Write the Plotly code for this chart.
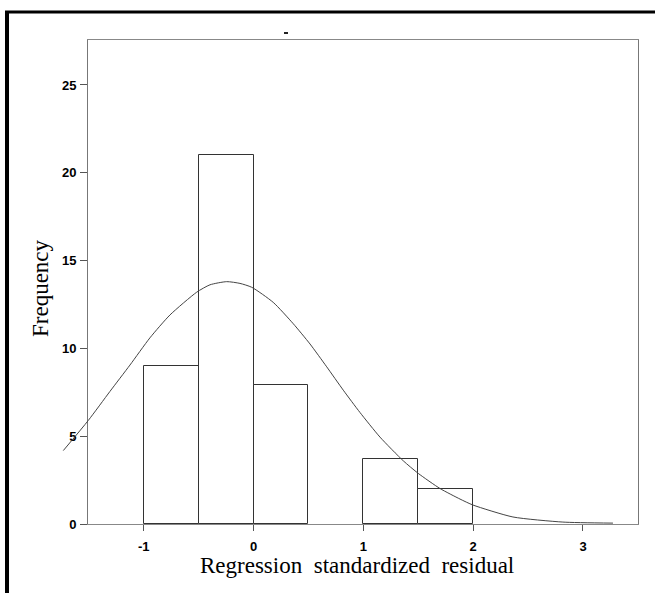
import plotly.graph_objects as go

# Histogram data (bin centres, bin width 0.5)
bin_centers = [-0.75, -0.25, 0.25, 1.25, 1.75]
frequencies = [9, 21, 7.9, 3.7, 2]
bin_width = 0.5

# Normal curve, points
curve_x = [-1.733, -1.505, -1.308, -1.126, -0.944, -0.762, -0.518, -0.397,
           -0.245, -0.124, -0.017, 0.179, 0.362, 0.514, 0.666, 0.817,
           0.969, 1.151, 1.363, 1.500, 1.698, 1.880, 1.998, 2.362, 2.817,
           3.273]
curve_y = [4.18, 5.90, 7.55, 9.05, 10.60, 11.90, 13.20, 13.62,
           13.80, 13.70, 13.48, 12.62, 11.40, 10.25, 8.95, 7.62,
           6.35, 4.95, 3.60, 2.88, 2.02, 1.42, 1.08, 0.40, 0.11,
           0.05]

x_ticks = [-1, 0, 1, 2, 3]
y_ticks = [0, 5, 10, 15, 20, 25]

W, H = 655, 593
ML, MR, MT, MB = 50, 17, 40, 69
PW = W - ML - MR
PH = H - MT - MB
plot_left_px = 88
main_x0 = (plot_left_px - ML) / PW

x_main = [-1.508, 3.501]
x_wide = [-1.854, 3.501]
y_rng = [0, 27.56]

def px2paper_x(px):
    return (px - ML) / PW

def py2paper_y(py):
    return (H - MB - py) / PH

fig = go.Figure()
fig.add_trace(go.Bar(
    x=bin_centers, y=frequencies, width=bin_width,
    marker=dict(color="white", line=dict(color="#333333", width=1)),
    xaxis="x", yaxis="y", showlegend=False,
))
fig.add_trace(go.Scatter(
    x=curve_x, y=curve_y, mode="lines",
    line=dict(color="#444444", width=1, shape="spline", smoothing=0.6),
    xaxis="x2", yaxis="y2", showlegend=False,
))

tick_font = dict(family="Liberation Sans, Arial", size=13, color="black",
                 weight="bold")

fig.update_layout(
    width=W, height=H,
    margin=dict(l=ML, r=MR, t=MT, b=MB),
    paper_bgcolor="white", plot_bgcolor="rgba(0,0,0,0)",
    bargap=0,
    xaxis=dict(
        domain=[main_x0, 1], range=x_main, tickvals=x_ticks,
        ticktext=[str(v) for v in x_ticks],
        ticks="outside", ticklen=6, tickcolor="#555555",
        ticklabelstandoff=4,
        showline=True, linecolor="#888888", linewidth=1, mirror=True,
        showgrid=False, zeroline=False, tickfont=tick_font,
        anchor="y", fixedrange=True,
    ),
    yaxis=dict(
        range=y_rng, tickvals=y_ticks,
        ticktext=[str(v) for v in y_ticks],
        ticks="outside", ticklen=7, tickcolor="#555555",
        ticklabelstandoff=1,
        showline=True, linecolor="#777777", linewidth=1, mirror=True,
        showgrid=False, zeroline=False, tickfont=tick_font,
        anchor="x", fixedrange=True,
    ),
    xaxis2=dict(domain=[0, 1], range=x_wide, visible=False, anchor="y2",
                fixedrange=True),
    yaxis2=dict(domain=[0, 1], range=y_rng, visible=False, anchor="x2",
                fixedrange=True),
    shapes=[
        dict(type="line", xref="paper", yref="paper",
             x0=px2paper_x(5), x1=px2paper_x(656),
             y0=py2paper_y(12), y1=py2paper_y(12),
             line=dict(color="black", width=3)),
        dict(type="line", xref="paper", yref="paper",
             x0=px2paper_x(7), x1=px2paper_x(7),
             y0=py2paper_y(11), y1=py2paper_y(594),
             line=dict(color="black", width=4)),
        dict(type="line", xref="paper", yref="paper",
             x0=px2paper_x(284), x1=px2paper_x(288),
             y0=py2paper_y(33), y1=py2paper_y(33),
             line=dict(color="#222222", width=2)),
    ],
    annotations=[
        dict(text="Regression  standardized  residual", xref="paper", yref="paper",
             x=px2paper_x(357), y=py2paper_y(565), xanchor="center",
             yanchor="middle", showarrow=False,
             font=dict(family="Liberation Serif, Times New Roman", size=23,
                       color="black")),
        dict(text="Frequency", xref="paper", yref="paper",
             x=px2paper_x(40), y=py2paper_y(288), xanchor="center",
             yanchor="middle", showarrow=False, textangle=-90,
             font=dict(family="Liberation Serif, Times New Roman", size=23,
                       color="black")),
    ],
)

fig.write_html("out.html",
               config={"displayModeBar": False},
               post_script="document.body.style.margin='0';")
